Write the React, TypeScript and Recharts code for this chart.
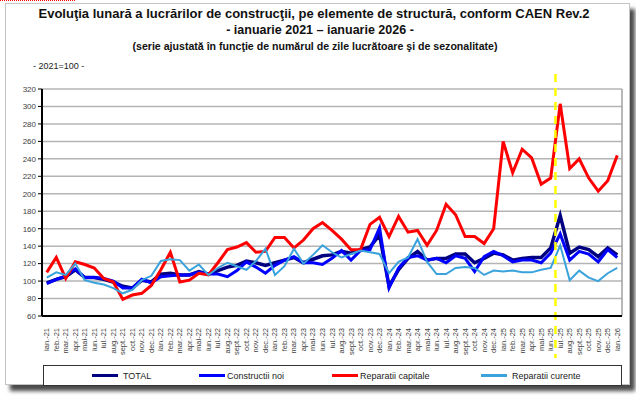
import { LineChart, Line, XAxis, YAxis, CartesianGrid, ReferenceLine } from 'recharts';

const monthAbbr = ['ian.', 'feb.', 'mar.', 'apr.', 'mai', 'iun.', 'iul.', 'aug.', 'sept.', 'oct.', 'nov.', 'dec.'];
const months = Array.from({ length: 61 }, (_, k) => `${monthAbbr[k % 12]}-${21 + Math.floor(k / 12)}`);

const total = [
  98, 102, 105, 113, 104, 104, 102, 99, 94, 92, 101, 99,
  108, 109, 107, 107, 111, 108, 112, 116, 118, 123, 121, 118,
  121, 124, 127, 121, 125, 129, 130, 134, 132, 136, 139, 153,
  94, 113, 126, 134, 124, 126, 126, 131, 131, 121, 126, 132,
  130, 124, 126, 127, 127, 138, 175, 132, 139, 136, 128, 138,
  130,
];
const constructiiNoi = [
  97, 102, 106, 114, 104, 104, 103, 100, 92, 92, 102, 98,
  105, 106, 107, 107, 110, 108, 108, 105, 112, 122, 116, 109,
  118, 124, 128, 121, 121, 119, 126, 135, 124, 135, 136, 161,
  92, 115, 127, 129, 124, 126, 121, 129, 126, 111, 128, 134,
  129, 122, 124, 124, 121, 132, 154, 124, 134, 131, 122, 136,
  127,
];
const reparatiiCapitale = [
  110, 127, 103, 122, 119, 115, 103, 99, 79, 84, 86, 95,
  113, 133, 99, 101, 109, 107, 121, 136, 139, 144, 133, 134,
  150, 150, 138, 147, 160, 167, 158, 148, 136, 136, 165, 173,
  151, 174, 156, 158, 141, 158, 188, 176, 151, 151, 143, 160,
  260, 224, 251, 241, 211, 218, 303, 229, 240, 218, 203, 215,
  244,
];
const reparatiiCurente = [
  104, 110, 107, 120, 101, 98, 96, 92, 86, 90, 101, 106,
  123, 125, 124, 112, 119, 107, 115, 121, 117, 113, 123, 137,
  107, 117, 137, 120, 130, 141, 133, 127, 131, 135, 133, 131,
  109, 122, 127, 148, 122, 108, 108, 115, 116, 115, 107, 112,
  111, 112, 110, 110, 113, 115, 141, 101, 112, 104, 100, 109,
  115,
];
const yTicks = [60, 80, 100, 120, 140, 160, 180, 200, 220, 240, 260, 280, 300, 320];
const xTicks = months.map((_, i) => i);
const breakAt = 53.5;

const series = [
  { key: 'total', name: 'TOTAL', color: '#000080', width: 3.5 },
  { key: 'noi', name: 'Constructii noi', color: '#0000ff', width: 3 },
  { key: 'cap', name: 'Reparatii capitale', color: '#ff0000', width: 3 },
  { key: 'cur', name: 'Reparatii curente', color: '#3aa3dc', width: 2 },
];

const data = months.map((m, i) => ({
  i,
  month: m,
  total: total[i],
  noi: constructiiNoi[i],
  cap: reparatiiCapitale[i],
  cur: reparatiiCurente[i],
}));

const font = "'Liberation Sans', Arial, sans-serif";
const plotTop = 89;
const plotBottom = 316;

function MonthTick({ x, y, payload }: any) {
  return (
    <text
      x={x}
      y={y + 4}
      transform={`rotate(-90 ${x} ${y + 4})`}
      textAnchor="end"
      dominantBaseline="central"
      fontSize={7.5}
      fontFamily={font}
      fill="#404040"
    >
      {months[payload.value]}
    </text>
  );
}

// dashed marker runs past the plot, through the month labels
function BreakLine(props: any) {
  const x = props.x1 ?? props.x;
  return (
    <line x1={x} x2={x} y1={plotTop - 15} y2={plotBottom + 42} stroke="#ffff00" strokeWidth={2.5} strokeDasharray="8 6" />
  );
}

export default function App() {
  return (
    <div style={{ position: 'absolute', left: 0, top: 0, width: 636, height: 395, background: '#fff', fontFamily: font }}>
      <div style={{ position: 'absolute', left: 0, top: 0, width: 75, borderTop: '1px dotted #ff0000' }} />
      <div
        style={{
          position: 'absolute', left: 5, top: 3, width: 623, height: 380,
          border: '1px solid #c4c4c4', boxShadow: '5px 6px 4px #4a4a4a', background: '#fff',
        }}
      />
      <div style={{ position: 'absolute', left: 0, top: 6, width: 628, textAlign: 'center', fontSize: 13, fontWeight: 700, color: '#111' }}>
        Evoluţia lunară a lucrărilor de construcţii, pe elemente de structură, conform CAEN Rev.2
      </div>
      <div style={{ position: 'absolute', left: 0, top: 23, width: 640, textAlign: 'center', fontSize: 12.5, fontWeight: 700, color: '#111' }}>
        - ianuarie 2021 – ianuarie 2026 -
      </div>
      <div
        style={{
          position: 'absolute', left: 0, top: 40, width: 630, textAlign: 'center', fontSize: 10.6, fontWeight: 700, color: '#111',
          fontFamily: "'Liberation Sans Narrow', 'Liberation Sans', Arial, sans-serif",
        }}
      >
        (serie ajustată în funcţie de numărul de zile lucrătoare şi de sezonalitate)
      </div>
      <div style={{ position: 'absolute', left: 33, top: 61, fontSize: 9, color: '#222' }}>- 2021=100 -</div>

      <div style={{ position: 'absolute', left: 0, top: 0 }}>
        <LineChart width={636} height={395} data={data} margin={{ top: plotTop, right: 14, bottom: 395 - plotBottom - 30, left: 8 }}>
          <CartesianGrid vertical={false} stroke="#b4b4b4" strokeWidth={1.5} />
          <XAxis
            dataKey="i"
            type="number"
            domain={[-0.5, 60.5]}
            ticks={xTicks}
            interval={0}
            tick={<MonthTick />}
            tickLine={false}
            axisLine={{ stroke: '#000', strokeWidth: 2 }}
            height={30}
          />
          <YAxis
            domain={[60, 320]}
            ticks={yTicks}
            interval={0}
            width={34}
            tick={{ fontSize: 8, fill: '#404040', fontFamily: font }}
            tickSize={4}
            tickLine={{ stroke: '#000' }}
            axisLine={{ stroke: '#000', strokeWidth: 2 }}
          />
          <ReferenceLine x={60.5} stroke="#a0a0a0" strokeWidth={1.5} />
          {series.map((s) => (
            <Line
              key={s.key}
              dataKey={s.key}
              name={s.name}
              stroke={s.color}
              strokeWidth={s.width}
              dot={false}
              activeDot={false}
              type="linear"
              isAnimationActive={false}
            />
          ))}
          <ReferenceLine x={breakAt} ifOverflow="visible" shape={<BreakLine />} />
        </LineChart>
      </div>

      <div style={{ position: 'absolute', left: 43, top: 365, width: 577, height: 19, border: '1px solid #333', background: '#fff' }}>
        {series.map((s, k) => {
          const lefts = [48, 155, 288, 437];
          return (
            <div key={s.key} style={{ position: 'absolute', left: lefts[k], top: 0, height: 19, display: 'flex', alignItems: 'center' }}>
              <span style={{ display: 'inline-block', width: 26, height: 3, background: s.color, marginRight: k === 0 || k === 3 ? 5 : 2 }} />
              <span style={{ fontSize: 9, color: '#222' }}>{s.name}</span>
            </div>
          );
        })}
      </div>
    </div>
  );
}
